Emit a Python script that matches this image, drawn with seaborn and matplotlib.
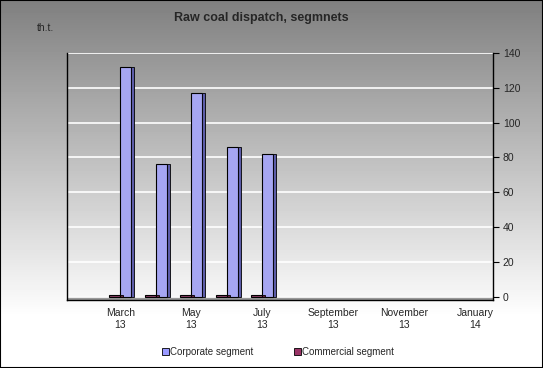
import numpy as np
import pandas as pd
import matplotlib
matplotlib.use("Agg")
import matplotlib.pyplot as plt
import seaborn as sns

# data (thousand tonnes)
months = ["February\n13", "March\n13", "April\n13", "May\n13", "June\n13", "July\n13",
          "August\n13", "September\n13", "October\n13", "November\n13", "December\n13", "January\n14"]
corporate = [np.nan, 132, 76, 117, 86, 82, np.nan, np.nan, np.nan, np.nan, np.nan, np.nan]
commercial = [np.nan, 0.8, 0.8, 0.8, 0.8, 0.8, np.nan, np.nan, np.nan, np.nan, np.nan, np.nan]
series_names = ["Corporate segment", "Commercial segment"]
y_ticks = [0, 20, 40, 60, 80, 100, 120, 140]

df = pd.DataFrame({
    "Month": months * 2,
    "Value": corporate + commercial,
    "Segment": [series_names[0]] * len(months) + [series_names[1]] * len(months),
})
colors = {"Corporate segment": "#9999ff", "Commercial segment": "#993366"}

sns.set_style("white")
plt.rcParams["font.family"] = ["Liberation Sans", "DejaVu Sans"]

fig = plt.figure(figsize=(5.43, 3.68), dpi=100)

# background gradient, dark grey at top fading to white
bg = fig.add_axes([0, 0, 1, 1], zorder=-10)
grad = np.linspace(0, 1, 368)
shade = np.clip(0.50 + grad * 0.58, 0, 1)
bg.imshow(np.tile(shade[:, None], (1, 10)), cmap="gray", vmin=0, vmax=1,
          aspect="auto", extent=[0, 1, 0, 1], origin="upper")
bg.set_axis_off()
fig.patches.append(plt.Rectangle((0, 0), 1, 1, transform=fig.transFigure,
                                 fill=False, edgecolor="black", linewidth=1.5))

ax = fig.add_axes([67 / 543, 68 / 368, 426 / 543, 247 / 368])
ax.patch.set_alpha(0)

hue_order = [series_names[1], series_names[0]]
sns.barplot(data=df, x="Month", y="Value", hue="Segment", hue_order=hue_order,
            palette=colors, width=0.62, edgecolor="black", linewidth=0.8,
            legend=False, ax=ax)

# simple side shading for a 3D look
for bar in ax.patches:
    h = bar.get_height()
    if np.isnan(h) or h <= 0:
        continue
    x0 = bar.get_x() + bar.get_width()
    ax.add_patch(plt.Rectangle((x0, 0), bar.get_width() * 0.25, h,
                               facecolor="#5c5ca8" if h > 5 else "#66203f",
                               edgecolor="black", linewidth=0.6, zorder=bar.get_zorder()))

ax.set_xlim(-0.5, len(months) - 0.5)
ax.set_ylim(-2, 140)
ax.axhspan(-2, 0, color="#9a9a9a", zorder=0)
ax.set_yticks(y_ticks)
ax.yaxis.tick_right()
ax.yaxis.grid(True, color="white", linewidth=1.2)
ax.set_axisbelow(True)

ax.set_xticks(range(len(months)))
ax.set_xticklabels([m if i % 2 == 1 else "" for i, m in enumerate(months)], fontsize=7.5)
ax.set_xticks(np.arange(-0.5, len(months), 1), minor=True)
ax.tick_params(axis="x", which="major", length=0, pad=6)
ax.tick_params(axis="x", which="minor", length=4, color="black", width=0.8)
ax.tick_params(axis="y", labelsize=7.5, length=4, color="black", width=0.8, pad=3)
ax.set_xlabel("")
ax.set_ylabel("")

for side in ["left", "right", "bottom"]:
    ax.spines[side].set_color("black")
    ax.spines[side].set_linewidth(1)
ax.spines["top"].set_visible(False)

fig.text(261 / 543, 1 - 18 / 368, "Raw coal dispatch, segmnets", ha="center", va="center",
         fontsize=9, fontweight="bold")
fig.text(37 / 543, 1 - 28 / 368, "th.t.", ha="left", va="center", fontsize=7.5)

handles = [plt.Rectangle((0, 0), 1, 1, facecolor=colors[n], edgecolor="black", linewidth=0.6)
           for n in series_names]
fig.legend(handles, series_names, loc="center", bbox_to_anchor=(278 / 543, 1 - 352 / 368),
           ncol=2, frameon=False, fontsize=7, handlelength=0.7, handleheight=0.7,
           handletextpad=0.1, columnspacing=4.2)

plt.savefig("out.png", dpi=100)
plt.close()
